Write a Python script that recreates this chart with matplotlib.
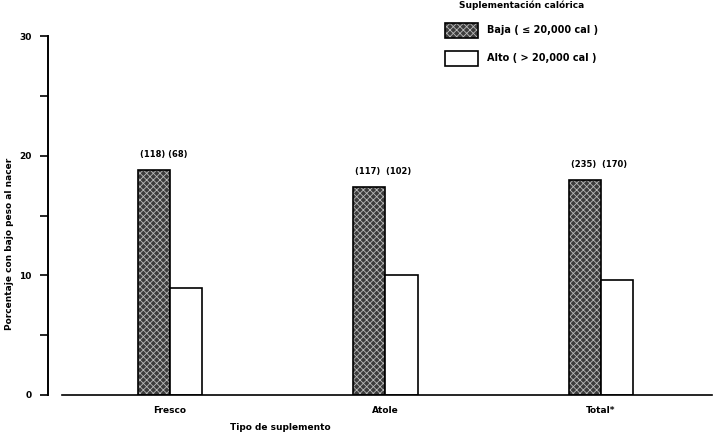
import numpy as np
import matplotlib
matplotlib.use("Agg")
import matplotlib.pyplot as plt
from matplotlib.patches import Patch

categories = ["Fresco", "Atole", "Total*"]
baja = [18.8, 17.4, 18.0]
alto = [8.9, 10.0, 9.6]
counts = ["(118) (68)", "(117)  (102)", "(235)  (170)"]

plt.rcParams['font.family'] = ['DejaVu Sans']
plt.rcParams['font.weight'] = 'bold'
plt.rcParams['hatch.linewidth'] = 0.6

fig = plt.figure(figsize=(7.2, 4.38), dpi=100)
ax = fig.add_axes([48 / 720, 43 / 438, 664 / 720, 359 / 438])

x = np.arange(len(categories))
w = 0.15
dark = ax.bar(x - w / 2, baja, w, facecolor='#3c3c3c', edgecolor='black',
              hatch='xxxxx', linewidth=1.2)
light = ax.bar(x + w / 2, alto, w, facecolor='white', edgecolor='black',
               linewidth=1.2)
# lighter stipple on the dark bars
for b in dark:
    b._hatch_color = (0.72, 0.72, 0.72, 1.0)

for xi, h, t in zip(x, baja, counts):
    ax.text(xi - w + 0.01, h + 0.9, t, fontsize=6, fontweight='bold',
            ha='left', va='bottom')

ax.set_xlim(-0.566, 2.515)
ax.set_ylim(0, 30)
ax.set_yticks([0, 10, 20, 30])
ax.set_yticks([5, 15, 25], minor=True)
ax.tick_params(axis='y', which='both', direction='out', length=6, width=1.2,
               labelsize=6.5, pad=6)
ax.set_xticks(x)
ax.set_xticklabels(categories, fontsize=6.5, fontweight='bold')
ax.tick_params(axis='x', length=0, pad=8)
for lab in ax.get_yticklabels():
    lab.set_fontweight('bold')

ax.spines['top'].set_visible(False)
ax.spines['right'].set_visible(False)
ax.spines['left'].set_linewidth(1.4)
ax.spines['bottom'].set_linewidth(1.2)
ax.spines['bottom'].set_bounds(-0.501, 2.515)

ax.set_ylabel("Porcentaje con bajo peso al nacer", fontsize=6.5,
              fontweight='bold')
ax.yaxis.set_label_coords(-34 / 664, 0.42)
fig.text(280 / 720, 1 - 427 / 438, "Tipo de suplemento", fontsize=6.5,
         fontweight='bold', ha='center', va='center')

handles = [Patch(facecolor='#3c3c3c', edgecolor='black', hatch='xxxxx',
                 linewidth=1.2),
           Patch(facecolor='white', edgecolor='black', linewidth=1.2)]
leg = fig.legend(handles, ["Baja ( \u2264 20,000 cal )", "Alto ( > 20,000 cal )"],
                 loc='upper left', bbox_to_anchor=(436 / 720, 1 + 8 / 438),
                 frameon=False, fontsize=7, title="Suplementación calórica",
                 title_fontsize=6.5, handlelength=3.4, handleheight=2.0,
                 labelspacing=1.3, handletextpad=0.9, alignment='center')
leg.get_title().set_fontweight('bold')
for p in leg.legend_handles[:1]:
    p._hatch_color = (0.72, 0.72, 0.72, 1.0)
for t in leg.get_texts():
    t.set_fontweight('bold')

fig.savefig("out.png", dpi=100)
